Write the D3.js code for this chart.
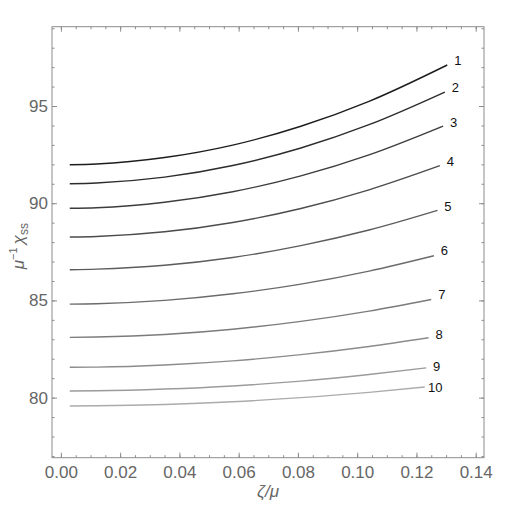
<!DOCTYPE html>
<html>
<head>
<meta charset="utf-8">
<script src="https://cdn.jsdelivr.net/npm/d3@7"></script>
<style>
    body { margin: 0; background: #fff; }
    svg { display: block; font-family: "Liberation Sans", Arial, sans-serif; }
</style>
</head>
<body>
<div id="chart"></div>
<script>
// sample points along zeta/mu shared by every curve, last point is per curve
const zeta = [0.003, 0.012, 0.035, 0.058, 0.081, 0.104];
const zetaEnd = [0.1304, 0.1296, 0.1290, 0.1279, 0.1271, 0.1259, 0.1250, 0.1241, 0.1233, 0.1228];

// mu^-1 chi_ss for each curve (7 values: the zeta points + end point)
const chi1  = [91.98, 92.02, 92.35, 92.99, 93.96, 95.24, 97.11];
const chi2  = [91.00, 91.04, 91.34, 91.94, 92.84, 94.04, 95.72];
const chi3  = [89.74, 89.77, 90.05, 90.59, 91.41, 92.49, 93.97];
const chi4  = [88.26, 88.29, 88.53, 89.01, 89.73, 90.69, 91.93];
const chi5  = [86.58, 86.61, 86.81, 87.21, 87.82, 88.62, 89.63];
const chi6  = [84.81, 84.83, 85.00, 85.34, 85.84, 86.51, 87.30];
const chi7  = [83.10, 83.12, 83.25, 83.52, 83.92, 84.45, 85.05];
const chi8  = [81.56, 81.57, 81.68, 81.89, 82.21, 82.63, 83.08];
const chi9  = [80.34, 80.35, 80.44, 80.60, 80.85, 81.19, 81.53];
const chi10 = [79.57, 79.58, 79.65, 79.79, 80.00, 80.27, 80.55];

const curveLabels = ['1', '2', '3', '4', '5', '6', '7', '8', '9', '10'];
const xTicks = [0.00, 0.02, 0.04, 0.06, 0.08, 0.10, 0.12, 0.14];
const yTicks = [80, 85, 90, 95];

const series = [chi1, chi2, chi3, chi4, chi5, chi6, chi7, chi8, chi9, chi10];

const W = 512, H = 511;
const margin = {top: 26.7, right: 28, bottom: 53.3, left: 52};

const svg = d3.select('#chart').append('svg')
    .attr('width', W)
    .attr('height', H);

const x = d3.scaleLinear().domain([-0.003, 0.1428]).range([margin.left, W - margin.right]);
const y = d3.scaleLinear().domain([76.91, 99.08]).range([H - margin.bottom, margin.top]);

const xMinor = d3.range(0, 0.1426, 0.005);
const yMinor = d3.range(77, 99.01, 1);
const axisColor = '#8c8c8c';
const textColor = '#666';

function styleAxis(g) {
    g.select('.domain').remove();
    g.selectAll('.tick line').attr('stroke', axisColor);
    g.selectAll('.tick text').attr('fill', textColor).style('font-size', '17px');
}

// bottom
svg.append('g').attr('transform', `translate(0,${y.range()[0]})`)
    .call(d3.axisBottom(x).tickValues(xMinor).tickSize(-2.5).tickFormat(''))
    .call(styleAxis);
svg.append('g').attr('transform', `translate(0,${y.range()[0]})`)
    .call(d3.axisBottom(x).tickValues(xTicks).tickSize(-5).tickPadding(8).tickFormat(d3.format('.2f')))
    .call(styleAxis);
// top
svg.append('g').attr('transform', `translate(0,${y.range()[1]})`)
    .call(d3.axisTop(x).tickValues(xMinor).tickSize(-2.5).tickFormat(''))
    .call(styleAxis);
svg.append('g').attr('transform', `translate(0,${y.range()[1]})`)
    .call(d3.axisTop(x).tickValues(xTicks).tickSize(-5).tickFormat(''))
    .call(styleAxis);
// left
svg.append('g').attr('transform', `translate(${x.range()[0]},0)`)
    .call(d3.axisLeft(y).tickValues(yMinor).tickSize(-2.5).tickFormat(''))
    .call(styleAxis);
svg.append('g').attr('transform', `translate(${x.range()[0]},0)`)
    .call(d3.axisLeft(y).tickValues(yTicks).tickSize(-5).tickPadding(4))
    .call(styleAxis);
// right
svg.append('g').attr('transform', `translate(${x.range()[1]},0)`)
    .call(d3.axisRight(y).tickValues(yMinor).tickSize(-2.5).tickFormat(''))
    .call(styleAxis);
svg.append('g').attr('transform', `translate(${x.range()[1]},0)`)
    .call(d3.axisRight(y).tickValues(yTicks).tickSize(-5).tickFormat(''))
    .call(styleAxis);

// frame
svg.append('rect')
    .attr('x', x.range()[0])
    .attr('y', y.range()[1])
    .attr('width', x.range()[1] - x.range()[0])
    .attr('height', y.range()[0] - y.range()[1])
    .attr('fill', 'none')
    .attr('stroke', axisColor)
    .attr('stroke-width', 1);

const grey = d3.interpolateRgb('#1c1c1c', '#ababab');
const line = d3.line()
    .x(d => x(d[0]))
    .y(d => y(d[1]))
    .curve(d3.curveMonotoneX);

const labelDy = [-4.5, -4.5, -4, -4, -3.5, -5.5, -5, -3, -1.3, 1];

series.forEach((vals, i) => {
    const xs = zeta.concat([zetaEnd[i]]);
    const pts = vals.map((v, j) => [xs[j], v]);
    svg.append('path')
        .datum(pts)
        .attr('d', line)
        .attr('fill', 'none')
        .attr('stroke', grey(i / 9))
        .attr('stroke-width', 1.4);
    svg.append('text')
        .attr('x', x(zetaEnd[i]) + 10.5)
        .attr('y', y(vals[vals.length - 1]) + labelDy[i])
        .attr('dy', '0.35em')
        .attr('text-anchor', 'middle')
        .style('font-size', '13px')
        .attr('fill', '#111')
        .text(curveLabels[i]);
});

// axis labels
svg.append('text')
    .attr('x', (x.range()[0] + x.range()[1]) / 2)
    .attr('y', 497)
    .attr('text-anchor', 'middle')
    .attr('fill', textColor)
    .style('font-size', '17px')
    .style('font-style', 'italic')
    .text('ζ/μ');

const yl = svg.append('text')
    .attr('transform', `translate(24,${(y.range()[0] + y.range()[1]) / 2 + 4}) rotate(-90)`)
    .attr('text-anchor', 'middle')
    .attr('fill', textColor)
    .style('font-size', '17px');
yl.append('tspan').style('font-style', 'italic').text('μ');
yl.append('tspan').attr('dy', -7).style('font-size', '11px').text('−1');
yl.append('tspan').attr('dy', 7).attr('dx', 3).style('font-style', 'italic').text('χ');
yl.append('tspan').attr('dy', 4).style('font-size', '12px').text('ss');
</script>
</body>
</html>
